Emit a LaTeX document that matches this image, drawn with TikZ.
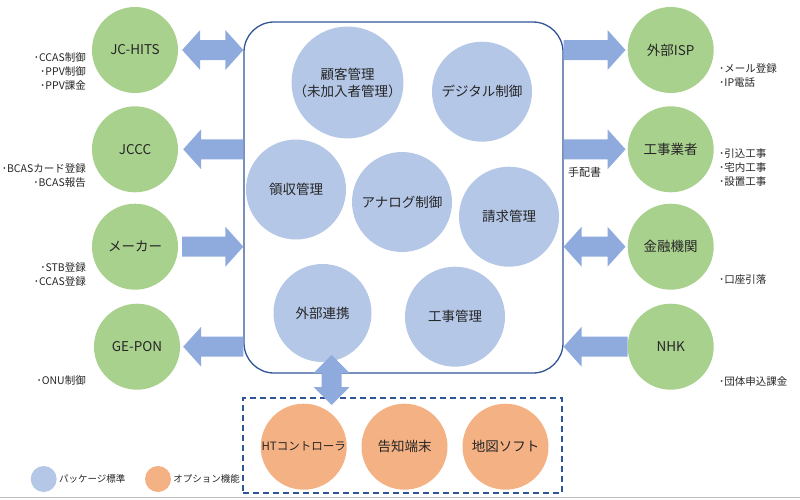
\documentclass[tikz,border=0pt]{standalone}
\usepackage{fontspec}
\setmainfont{Noto Sans CJK JP}
\usetikzlibrary{calc}

\definecolor{grn}{HTML}{A9D18E}
\definecolor{pkg}{HTML}{B4C7E7}
\definecolor{opt}{HTML}{F4B183}
\definecolor{arw}{HTML}{8FAADC}
\definecolor{frm}{HTML}{2F5597}
\definecolor{txt}{HTML}{262626}

% block arrows: shaft 20pt, head 40pt wide, 18pt long
\newcommand{\arrR}[2]{\fill[arw] let \p1=(#1),\p2=(#2) in
  (\x1,\y1+10pt) -- (\x2-18pt,\y1+10pt) -- (\x2-18pt,\y1+20pt) -- (\x2,\y1)
  -- (\x2-18pt,\y1-20pt) -- (\x2-18pt,\y1-10pt) -- (\x1,\y1-10pt) -- cycle;}
\newcommand{\arrL}[2]{\fill[arw] let \p1=(#1),\p2=(#2) in
  (\x2,\y1+10pt) -- (\x1+18pt,\y1+10pt) -- (\x1+18pt,\y1+20pt) -- (\x1,\y1)
  -- (\x1+18pt,\y1-20pt) -- (\x1+18pt,\y1-10pt) -- (\x2,\y1-10pt) -- cycle;}
\newcommand{\arrD}[2]{\fill[arw] let \p1=(#1),\p2=(#2) in
  (\x1,\y1) -- (\x1+18pt,\y1+20pt) -- (\x1+18pt,\y1+10pt) -- (\x2-18pt,\y1+10pt)
  -- (\x2-18pt,\y1+20pt) -- (\x2,\y1) -- (\x2-18pt,\y1-20pt) -- (\x2-18pt,\y1-10pt)
  -- (\x1+18pt,\y1-10pt) -- (\x1+18pt,\y1-20pt) -- cycle;}
\newcommand{\arrV}[2]{\fill[arw] let \p1=(#1),\p2=(#2) in
  (\x1,\y1) -- (\x1+18pt,\y1-18pt) -- (\x1+10pt,\y1-18pt) -- (\x1+10pt,\y2+18pt)
  -- (\x1+18pt,\y2+18pt) -- (\x1,\y2) -- (\x1-18pt,\y2+18pt) -- (\x1-10pt,\y2+18pt)
  -- (\x1-10pt,\y1-18pt) -- (\x1-18pt,\y1-18pt) -- cycle;}

\begin{document}
\begin{tikzpicture}[x=1pt,y=-1pt,text=txt,
    ext/.style={circle,fill=grn,minimum size=86pt,inner sep=0pt,font=\fontsize{13.5}{16}\selectfont},
    fn/.style={circle,fill=pkg,minimum size=100pt,inner sep=0pt,align=center,font=\fontsize{13.5}{17}\selectfont},
    op/.style={circle,fill=opt,minimum size=86pt,inner sep=0pt,font=\fontsize{13.5}{16}\selectfont},
    note/.style={inner sep=0pt,font=\fontsize{10.5}{14}\selectfont},
    lgd/.style={circle,minimum size=26pt,inner sep=0pt}]
  \useasboundingbox (0,0) rectangle (800,499);
  \draw[black!25,line width=1pt] (0,497.5) -- (800,497.5);

  % system frame
  \node[draw=frm,line width=1.3pt,rounded corners=30pt,minimum width=319pt,
        minimum height=351pt,inner sep=0pt] (core) at (403.5,197.5) {};
  \node[draw=frm,line width=1.5pt,dash pattern=on 6pt off 4pt,minimum width=319pt,
        minimum height=95pt,inner sep=0pt] (optbox) at (402.5,445.5) {};

  % standard functions
  \node[fn,minimum size=98pt] (kokyaku) at (347.5,82.5) {顧客管理\\（未加入者管理）};
  \node[fn] (digital) at (482,91.7) {デジタル制御};
  \node[fn] (ryoshu) at (296,189.5) {領収管理};
  \node[fn] (analog) at (402,202) {アナログ制御};
  \node[fn] (seikyu) at (509,216.7) {請求管理};
  \node[fn,minimum size=98pt] (renkei) at (322.5,313) {外部連携};
  \node[fn] (koji) at (455,316.7) {工事管理};

  % options
  \node[op,font=\fontsize{11.5}{14}\selectfont] (ht) at (303.7,446.7) {HTコントローラ};
  \node[op] (kochi) at (404.5,446.7) {告知端末};
  \node[op] (chizu) at (505.5,446.7) {地図ソフト};

  % external parties
  \node[ext] (jchits) at (135,50) {JC-HITS};
  \node[ext] (jccc) at (135,149.3) {JCCC};
  \node[ext] (maker) at (135,246.7) {メーカー};
  \node[ext] (gepon) at (137,346.7) {GE-PON};
  \node[ext] (isp) at (670.7,50) {外部ISP};
  \node[ext] (kojigyo) at (670.7,149.3) {工事業者};
  \node[ext] (kinyu) at (670.7,246.7) {金融機関};
  \node[ext] (nhk) at (670.7,346.7) {NHK};

  % notes
  \node[note,anchor=east,align=right] (n1) at (86,71) {･CCAS制御\\･PPV制御\\･PPV課金};
  \node[note,anchor=east,align=right] (n2) at (86,175.5) {･BCASカード登録\\･BCAS報告};
  \node[note,anchor=east,align=right] (n3) at (86,274.5) {･STB登録\\･CCAS登録};
  \node[note,anchor=east,align=right] (n4) at (86,380) {･ONU制御};
  \node[note,anchor=west,align=left] (n5) at (719,76) {･メール登録\\･IP電話};
  \node[note,anchor=west,align=left] (n6) at (719,168) {･引込工事\\･宅内工事\\･設置工事};
  \node[note,anchor=west,align=left] (n7) at (719,280) {･口座引落};
  \node[note,anchor=west,align=left] (n8) at (719,381) {･団体申込課金};
  \node[note,anchor=west,font=\fontsize{11}{13}\selectfont] (tehai) at (568,172.5) {手配書};

  % legend
  \node[lgd,fill=pkg] (lpkg) at (43.7,479) {};
  \node[anchor=west,inner sep=0pt,font=\fontsize{9.5}{11}\selectfont] at ([xshift=2pt]lpkg.east) {パッケージ標準};
  \node[lgd,fill=opt] (lopt) at (158,479) {};
  \node[anchor=west,inner sep=0pt,font=\fontsize{9.5}{11}\selectfont] at ([xshift=2pt]lopt.east) {オプション機能};

  % interfaces
  \arrD{[xshift=4pt]jchits.east}{core.west |- jchits}
  \arrL{[xshift=5pt]jccc.east}{core.west |- jccc}
  \arrR{[xshift=4pt]maker.east}{core.west |- maker}
  \arrL{[xshift=3pt]gepon.east}{core.west |- gepon}
  \arrR{core.east |- isp}{[xshift=-2pt]isp.west}
  \arrR{core.east |- kojigyo}{[xshift=-2pt]kojigyo.west}
  \arrD{core.east |- kinyu}{[xshift=-2pt]kinyu.west}
  \arrL{core.east |- nhk}{nhk.west}
  \coordinate (vtop) at (331.7,355);
  \coordinate (vbot) at (331.7,405);
  \arrV{vtop}{vbot}
\end{tikzpicture}
\end{document}
